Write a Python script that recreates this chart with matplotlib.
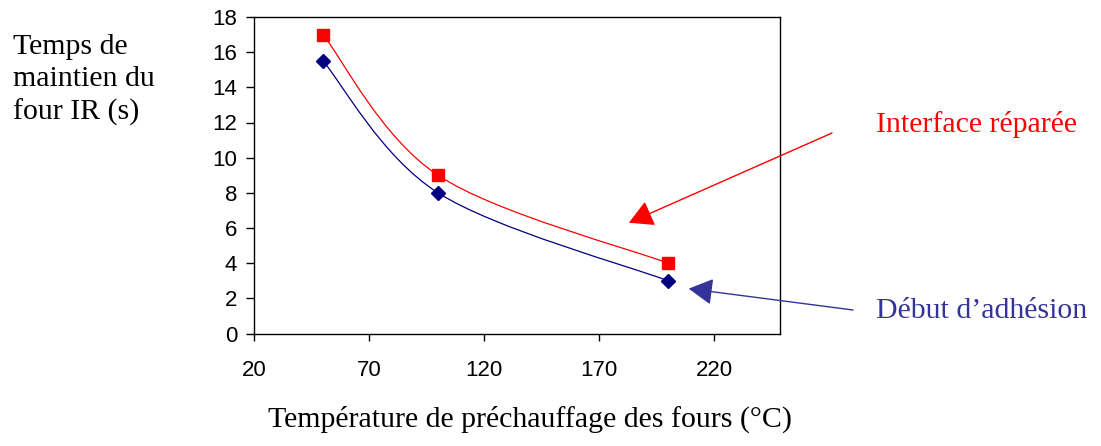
import numpy as np
import matplotlib
matplotlib.use("Agg")
import matplotlib.pyplot as plt
from matplotlib.path import Path
from matplotlib.patches import PathPatch

# preheat temperature of the ovens (°C) and IR oven holding time (s)
temperature = [50, 100, 200]
t_repaired = [17, 9, 4]      # interface réparée
t_adhesion = [15.5, 8, 3]    # début d'adhésion

x_ticks = [20, 70, 120, 170, 220]
y_ticks = list(range(0, 19, 2))

serif = ["Liberation Serif", "DejaVu Serif"]
sans = ["Liberation Sans", "DejaVu Sans"]


def smooth_path(xs, ys):
    # Catmull-Rom style bezier through the points (like Excel's smoothed line)
    pts = np.column_stack([xs, ys]).astype(float)
    n = len(pts)
    verts = [pts[0]]
    codes = [Path.MOVETO]
    for i in range(n - 1):
        p_prev = pts[max(i - 1, 0)]
        p0 = pts[i]
        p1 = pts[i + 1]
        p_next = pts[min(i + 2, n - 1)]
        c1 = p0 + (p1 - p_prev) / 6.0
        c2 = p1 - (p_next - p0) / 6.0
        verts += [c1, c2, p1]
        codes += [Path.CURVE4] * 3
    return Path(verts, codes)


W, H = 1101, 446
fig = plt.figure(figsize=(W / 100, H / 100), dpi=100)
ax = fig.add_axes([254 / W, 1 - 333.5 / H, 526 / W, 316.5 / H])

red = "#FF0000"
navy = "#000080"
blue_txt = "#333399"

ax.add_patch(PathPatch(smooth_path(temperature, t_repaired), fc="none", ec=red, lw=0.9))
ax.add_patch(PathPatch(smooth_path(temperature, t_adhesion), fc="none", ec=navy, lw=0.9))
ax.plot(temperature, t_repaired, ls="none", marker="s", ms=8, color=red, zorder=3)
ax.plot(temperature, t_adhesion, ls="none", marker="D", ms=7, color=navy, zorder=3)

ax.set_xlim(20, 248.7)
ax.set_ylim(0, 18)
ax.set_xticks(x_ticks)
ax.set_yticks(y_ticks)
for spine in ax.spines.values():
    spine.set_linewidth(1.0)
ax.tick_params(axis="y", direction="out", length=6, width=1, pad=6, labelsize=16)
ax.tick_params(axis="x", direction="out", length=5, width=1, pad=14, labelsize=16)
for lbl in ax.get_xticklabels() + ax.get_yticklabels():
    lbl.set_family(sans)

# axis titles
fig.text(13 / W, 1 - 120 / H, "Temps de\nmaintien du\nfour IR (s)",
         family=serif, fontsize=21.5, ha="left", va="baseline", linespacing=1.33)
fig.text(530 / W, 1 - 427 / H, "Température de préchauffage des fours (°C)",
         family=serif, fontsize=21.5, ha="center", va="baseline")

# annotations with arrows
fig.text(876 / W, 1 - 132 / H, "Interface réparée", color=red,
         family=serif, fontsize=21.5, ha="left", va="baseline")
fig.text(876 / W, 1 - 318 / H, "Début d’adhésion", color=blue_txt,
         family=serif, fontsize=21.5, ha="left", va="baseline")

ax.annotate("", xy=(183, 6.3), xycoords="data",
            xytext=(832, H - 133), textcoords="figure pixels",
            arrowprops=dict(arrowstyle="-|>,head_length=1.0,head_width=0.55",
                            mutation_scale=15, color=red, lw=1.0,
                            shrinkA=0, shrinkB=0),
            annotation_clip=False)
ax.annotate("", xy=(209, 2.55), xycoords="data",
            xytext=(853, H - 310), textcoords="figure pixels",
            arrowprops=dict(arrowstyle="-|>,head_length=1.0,head_width=0.55",
                            mutation_scale=15, color=blue_txt, lw=1.0,
                            shrinkA=0, shrinkB=0),
            annotation_clip=False)

fig.savefig("out.png", dpi=100)
